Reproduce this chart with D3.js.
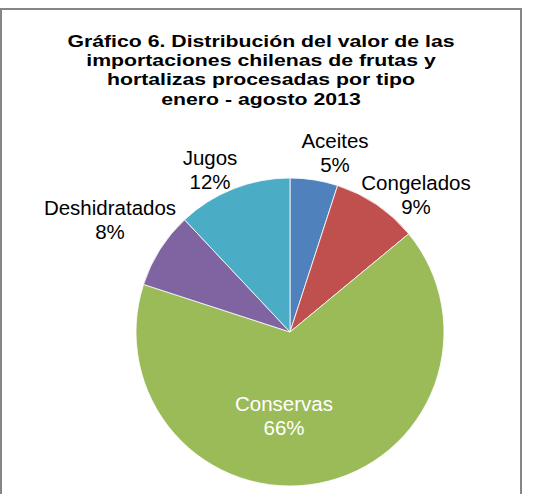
<!DOCTYPE html>
<html>
<head>
<meta charset="utf-8">
<script src="https://cdn.jsdelivr.net/npm/d3@7"></script>
<style>
  html, body { margin: 0; padding: 0; background: #fff; }
  svg { display: block; }
</style>
</head>
<body>
<svg id="chart" width="533" height="494"></svg>
<script>
const titleLines = [
  "Gráfico 6. Distribución del valor de las",
  "importaciones chilenas de frutas y",
  "hortalizas procesadas por tipo",
  "enero - agosto 2013"
];
const categories = ["Aceites", "Congelados", "Conservas", "Deshidratados", "Jugos"];
const values = [5, 9, 66, 8, 12];
const colors = ["#4F81BD", "#C0504D", "#9BBB59", "#8064A2", "#4BACC6"];

const svg = d3.select("#chart");

// chart border
svg.append("rect")
  .attr("x", 1).attr("y", 9)
  .attr("width", 520).attr("height", 500)
  .attr("fill", "none")
  .attr("stroke", "#868686")
  .attr("stroke-width", 2);

// title (widened to match reference glyph proportions)
const tx = 261, sx = 1.25;
const title = svg.append("text")
  .attr("transform", `translate(${tx},0) scale(${sx},1)`)
  .attr("font-family", "Liberation Sans, Arial, sans-serif")
  .attr("font-weight", "bold")
  .attr("font-size", 17)
  .attr("text-anchor", "middle")
  .attr("fill", "#000");
titleLines.forEach((t, i) => {
  title.append("tspan").attr("x", 0).attr("y", 47 + i * 19.2).text(t);
});

const cx = 290, cy = 332, r = 154;
const data = categories.map((c, i) => ({ name: c, value: values[i], color: colors[i] }));
const pie = d3.pie().sort(null).value(d => d.value);
const arcs = pie(data);
const arc = d3.arc().innerRadius(0).outerRadius(r);

const g = svg.append("g").attr("transform", `translate(${cx},${cy})`);
g.selectAll("path").data(arcs).enter().append("path")
  .attr("d", arc)
  .attr("fill", d => d.data.color)
  .attr("stroke", "#fff")
  .attr("stroke-width", 0.8);

const labelPos = {
  "Aceites":       { x: 335, y: 148, fill: "#000" },
  "Congelados":    { x: 416, y: 190, fill: "#000" },
  "Conservas":     { x: 284, y: 411, fill: "#fff" },
  "Deshidratados": { x: 110, y: 215, fill: "#000" },
  "Jugos":         { x: 210, y: 165, fill: "#000" }
};

arcs.forEach(a => {
  const p = labelPos[a.data.name];
  const t = svg.append("text")
    .attr("font-family", "Liberation Sans, Arial, sans-serif")
    .attr("font-size", 20.5)
    .attr("text-anchor", "middle")
    .attr("fill", p.fill);
  t.append("tspan").attr("x", p.x).attr("y", p.y).text(a.data.name);
  t.append("tspan").attr("x", p.x).attr("y", p.y + 23.5).text(a.data.value + "%");
});
</script>
</body>
</html>
